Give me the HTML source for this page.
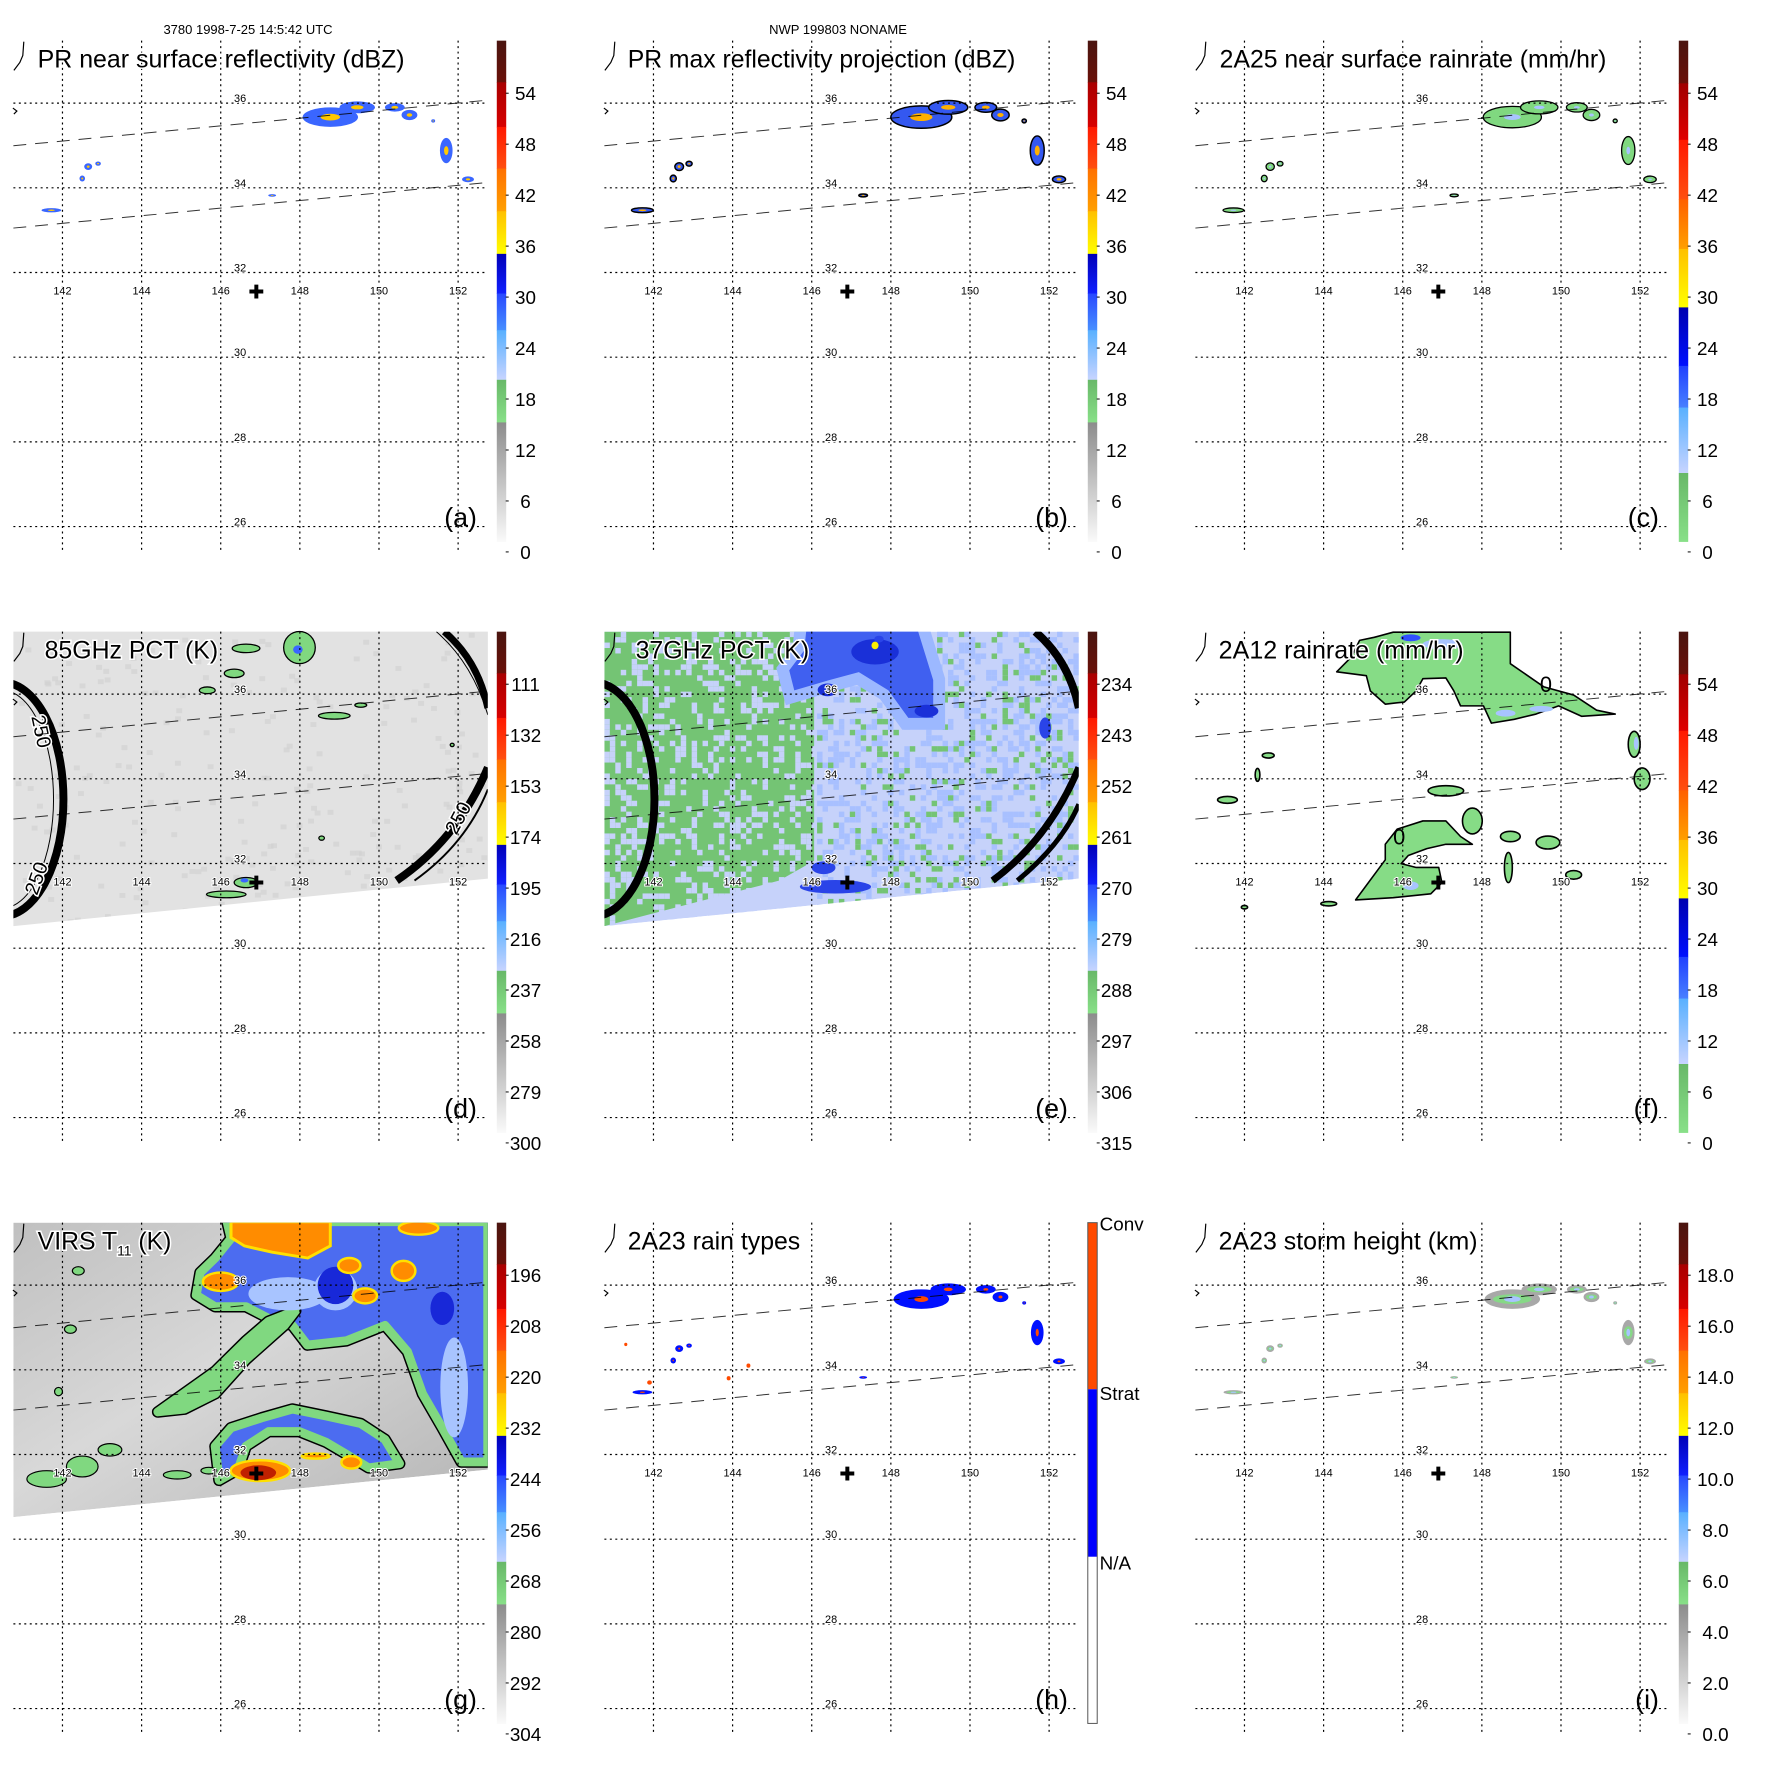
<!DOCTYPE html>
<html><head><meta charset="utf-8"><title>TRMM overpass panels</title>
<style>
html,body{margin:0;padding:0;background:#fff;}
svg{display:block;font-family:"Liberation Sans",sans-serif;}
</style></head>
<body>
<svg id="chart" xmlns="http://www.w3.org/2000/svg" width="1771" height="1771" viewBox="0 0 1771 1771">
<rect x="0" y="0" width="1771" height="1771" fill="#fff"/>
<text x="248" y="34" font-size="13" text-anchor="middle">3780 1998-7-25 14:5:42 UTC</text>
<text x="838" y="34" font-size="13" text-anchor="middle">NWP 199803 NONAME</text>
</svg>
<script>
// ---------- data ----------
const lonTicks=[142,144,146,148,150,152];
const latTicks=[36,34,32,30,28,26];
const stormLon=146.9, stormLat=31.55;
// PR precipitation cells (lon, lat, half-width deg, half-height deg)
const prLon=[148.77,149.45,150.4,150.77,151.7,152.25,151.37,142.65,142.5,142.9,141.72,147.3];
const prLat=[35.67,35.9,35.9,35.72,34.88,34.2,35.58,34.5,34.22,34.57,33.47,33.82];
const prRx=[0.7,0.45,0.25,0.2,0.16,0.15,0.05,0.1,0.07,0.07,0.25,0.1];
const prRy=[0.23,0.14,0.1,0.12,0.3,0.07,0.04,0.08,0.07,0.05,0.05,0.03];
// 85GHz cold cells
const d85Lon=[146.64,147.99,146.34,145.66,148.87,149.54,146.14,146.64,148.55,151.85];
const d85Lat=[37.08,37.1,36.49,36.09,35.49,35.74,31.27,31.55,32.6,34.8];
const d85Rx=[0.35,0.4,0.25,0.2,0.4,0.15,0.5,0.3,0.07,0.05];
const d85Ry=[0.1,0.38,0.1,0.08,0.08,0.05,0.08,0.12,0.05,0.04];
// 2A12 rain areas
const fMainLon=[145.76,148.72,148.72,149.57,150.32,150.9,151.37,150.52,149.94,149.37,148.82,148.24,148.04,147.46,147.29,147.09,146.51,146.34,146.04,145.56,145.18,145.08,144.33,144.71,144.91,145.28];
const fMainLat=[37.48,37.48,36.75,36.21,36.02,35.67,35.58,35.53,35.77,35.58,35.46,35.37,35.77,35.77,36.12,36.42,36.4,36.12,35.86,35.81,36.12,36.47,36.56,36.91,37.29,37.36];
const fArcLon=[144.81,145.56,145.56,145.86,146.51,147.09,147.46,147.76,147.09,146.61,146.14,145.96,146.34,146.91,146.99,146.71,145.76];
const fArcLat=[31.27,32.2,32.56,32.91,33.1,33.1,32.74,32.56,32.56,32.46,32.3,32.11,32.02,32.02,31.67,31.41,31.32];
const fCellLon=[147.09,147.76,148.72,149.67,148.67,150.32,151.85,152.05,141.57,142.6,142.33,144.13,142.0];
const fCellLat=[33.8,33.1,32.74,32.6,32.02,31.85,34.88,34.08,33.59,34.62,34.17,31.18,31.1];
const fCellRx=[0.45,0.25,0.25,0.3,0.1,0.2,0.15,0.2,0.25,0.15,0.06,0.2,0.08];
const fCellRy=[0.12,0.3,0.12,0.15,0.35,0.1,0.3,0.25,0.08,0.06,0.15,0.05,0.04];
// VIRS cloud structures
const gMassLon=[146.16,152.75,152.75,152.08,151.6,151.1,150.72,150.15,149.17,148.19,147.81,147.21,146.64,145.86,145.38,145.48,145.86,146.26];
const gMassLat=[37.48,37.48,31.71,31.71,32.53,33.35,34.36,34.99,34.62,34.52,34.99,35.16,35.44,35.44,35.72,36.26,36.61,37.08];
const gBandLon=[144.41,145.86,146.64,147.21,147.89,147.61,146.64,145.86,145.08];
const gBandLat=[32.91,33.89,34.62,35.09,35.34,34.99,34.17,33.35,32.98];
const gArcLon=[145.96,145.86,146.26,147.04,147.81,148.67,149.54,150.15,150.52,149.74,149.17,148.67,147.99,147.21,146.64,146.44];
const gArcLat=[31.27,32.09,32.53,32.77,32.98,32.81,32.63,32.25,31.67,31.57,31.9,32.18,32.44,32.44,32.09,31.53];
const gTopLon=[146.26,148.77,148.77,148.2,147.3,146.6,146.26];
const gTopLat=[37.48,37.48,36.9,36.61,36.75,36.9,37.1];
const gCoreLon=[146.0,151.0,150.62,149.65,149.25,147.0,149.3,148.4];
const gCoreLat=[36.04,37.33,36.3,35.7,36.43,31.5,31.7,31.85];
const gCoreRx=[0.45,0.5,0.3,0.3,0.28,0.75,0.25,0.35];
const gCoreRy=[0.22,0.16,0.24,0.18,0.18,0.25,0.15,0.06];
const gGreenLon=[141.6,142.5,143.2,142.2,144.9,145.7,141.9,142.4];
const gGreenLat=[31.3,31.6,32.0,34.9,31.4,31.5,33.4,36.3];
const gGreenRx=[0.5,0.4,0.3,0.15,0.35,0.2,0.1,0.15];
const gGreenRy=[0.2,0.25,0.15,0.1,0.1,0.08,0.1,0.1];
// 37GHz depressed regions
const eBlueLon=[145.86,148.69,149.07,149.07,148.44,147.94,147.19,146.44,145.56,145.43,145.81];
const eBlueLat=[37.48,37.48,36.33,35.44,35.44,36.09,36.52,36.33,36.09,36.56,37.03];
// colourbar labels
const labA=['54','48','42','36','30','24','18','12','6','0'];
const labD=['111','132','153','174','195','216','237','258','279','300'];
const labE=['234','243','252','261','270','279','288','297','306','315'];
const labG=['196','208','220','232','244','256','268','280','292','304'];
const labI=['18.0','16.0','14.0','12.0','10.0','8.0','6.0','4.0','2.0','0.0'];
const labH=['Conv','Strat','N/A'];

// ---------- helpers ----------
const NS='http://www.w3.org/2000/svg';
const svg=document.getElementById('chart');
function el(t,a,p){const e=document.createElementNS(NS,t);for(const k in a)e.setAttribute(k,a[k]);if(p)p.appendChild(e);return e;}
function nm(e,n){
  
  
  return e;
}
const X=lon=>63+(lon-142)*39.9;
const Y=lat=>104+(36-lat)*42.7;
function poly(lons,lats){return lons.map((l,i)=>X(l).toFixed(1)+','+Y(lats[i]).toFixed(1)).join(' ');}
const STEP=591;
const SC=0.9916;
const SWATH='13.5,41 492,41 492,290 13.5,338';
const segStd=[[41,83,'#4a1510','#6a1008'],[83,128,'#a80000','#d80000'],[128,170,'#ff1800','#ff5010'],[170,213,'#ff7000','#ffa000'],[213,256,'#ffc000','#ffff00'],[256,296,'#0000b8','#1020ff'],[296,333,'#2848ff','#4890ff'],[333,383,'#58b0ff','#c8d4ff'],[383,426,'#68b868','#88e088'],[426,546,'#8c8c8c','#fafafa']];
const segRain=[[41,84,'#4a1510','#6a1008'],[84,141,'#a00000','#e00000'],[141,201,'#ff1800','#ff5010'],[201,251,'#ff6000','#ffa000'],[251,310,'#ffc000','#ffff00'],[310,369,'#0000b0','#0010ff'],[369,411,'#2040ff','#4880ff'],[411,477,'#58b0ff','#c8d4ff'],[477,546,'#68b868','#88e088']];
const defs=el('defs',{},svg);
let gid=0;

function makePanel(col,row,key,title,titleLen,letter,labels,segs,titleX){
  const g=el('g',{transform:`translate(${(col*STEP).toFixed(1)},${(row*STEP).toFixed(1)}) scale(${SC})`},svg);
  nm(g,'panel-'+key);
  const clip=el('clipPath',{id:'clip-'+key},defs);
  el('polygon',{points:SWATH},clip);
  const data=el('g',{},g);
  nm(data,'data-layer-'+key);
  const over=el('g',{},g);
  [[147,101],[230,184]].forEach((p,i)=>{
    const l=el('line',{x1:13.5,y1:p[0],x2:492,y2:p[1],stroke:'#000','stroke-width':1,'stroke-dasharray':'13,9',opacity:0.8},over);
    nm(l,i?'swath-edge-lower':'swath-edge-upper');
  });
  lonTicks.forEach(lon=>{
    const l=el('line',{x1:X(lon),y1:41,x2:X(lon),y2:556,stroke:'#000','stroke-width':1.2,'stroke-dasharray':'2,3.5'},over);
    nm(l,'meridian-'+lon);
    const t=el('text',{x:X(lon),y:297,'font-size':11,'text-anchor':'middle',stroke:'#fff','stroke-width':2,'paint-order':'stroke'},over);
    nm(t,'lon-label-'+lon);
    t.textContent=lon;
  });
  latTicks.forEach(lat=>{
    const l=el('line',{x1:13.5,y1:Y(lat),x2:492,y2:Y(lat),stroke:'#000','stroke-width':1.2,'stroke-dasharray':'2,3.5'},over);
    nm(l,'parallel-'+lat);
    const t=el('text',{x:236,y:Y(lat)-1,'font-size':11,stroke:'#fff','stroke-width':2,'paint-order':'stroke'},over);
    nm(t,'lat-label-'+lat);
    t.textContent=lat;
  });
  const cr=el('path',{d:`M${X(stormLon)-7},${Y(stormLat)} h14 M${X(stormLon)},${Y(stormLat)-7} v14`,stroke:'#000','stroke-width':4},over);
  nm(cr,'storm-center-marker');
  const cs=el('path',{d:'M14,71 L20,63 L23,56 L24,42 M13,109 L17,112 L14,115',stroke:'#000',fill:'none','stroke-width':1.2},over);
  nm(cs,'coastline');
  const tt=el('text',{x:titleX,y:68,'font-size':25,textLength:titleLen,lengthAdjust:'spacingAndGlyphs',stroke:'#fff','stroke-width':3,'paint-order':'stroke'},over);
  nm(tt,'panel-title-'+key);
  if(key==='g'){tt.removeAttribute('textLength');tt.innerHTML='VIRS T<tspan font-size="14" dy="6">11</tspan><tspan dy="-6"> (K)</tspan>';}
  else tt.textContent=title;
  const lt=el('text',{x:481,y:531,'font-size':27,'text-anchor':'end'},over);
  nm(lt,'panel-letter-'+key);
  lt.textContent='('+letter+')';
  const cb=el('g',{},g);
  nm(cb,'colorbar-'+key);
  if(segs){
    segs.forEach(s=>{
      const id='gr'+(gid++);
      const lg=el('linearGradient',{id:id,x1:0,y1:0,x2:0,y2:1},defs);
      el('stop',{offset:0,'stop-color':s[2]},lg);el('stop',{offset:1,'stop-color':s[3]},lg);
      const r=el('rect',{x:501,y:s[0],width:9.5,height:s[1]-s[0]+0.5,fill:`url(#${id})`},cb);
      nm(r,'colorbar-segment');
    });
    labels.forEach((lab,i)=>{
      const y=94+i*51.4;
      const tk=el('line',{x1:510,y1:y,x2:513,y2:y,stroke:'#000','stroke-width':1},cb);
      nm(tk,'colorbar-tick');
      const t=el('text',{x:key==='i'?538:530,y:y+7,'font-size':19,'text-anchor':'middle'},cb);
      nm(t,'colorbar-label-'+lab);
      t.textContent=lab;
    });
  } else {
    [[41,209,'#ff4a00'],[209,378,'#0000ff'],[378,546,'#ffffff']].forEach((s,i)=>{
      const r=el('rect',{x:501,y:s[0],width:9.5,height:s[1]-s[0],fill:s[2]},cb);
      nm(r,'raintype-segment-'+labH[i].replace('/',''));
    });
    const o=el('rect',{x:501,y:41,width:9.5,height:505,fill:'none',stroke:'#555','stroke-width':1},cb);
    nm(o,'colorbar-outline');
    labels.forEach((lab,i)=>{
      const t=el('text',{x:513,y:[49,220,391][i],'font-size':19},cb);
      nm(t,'colorbar-label-'+lab.replace('/',''));
      t.textContent=lab;
    });
  }
  return {g,data,over,clip:'url(#clip-'+key+')'};
}
function blobs(parent,lons,lats,rxs,rys,fill,stroke,sw,name){
  lons.forEach((l,i)=>{
    const e=el('ellipse',{cx:X(l),cy:Y(lats[i]),rx:rxs[i]*39.9,ry:rys[i]*42.7,fill:fill,stroke:stroke||'none','stroke-width':sw||0},parent);
    nm(e,name);
  });
}
function rnd(i){const s=Math.sin(i*12.9898+78.233)*43758.5453;return s-Math.floor(s);}

// ---------- panel a ----------
let P=makePanel(0,0,'a','PR near surface reflectivity (dBZ)',370,'a',labA,segStd,38);
blobs(P.data,prLon,prLat,prRx,prRy,'#3a66ff',null,0,'pr-cell');
blobs(P.data,prLon,prLat,prRx.map(v=>v*0.35),prRy.map(v=>v*0.35),'#ffc800',null,0,'pr-core');

// ---------- panel b ----------
P=makePanel(1,0,'b','PR max reflectivity projection (dBZ)',391,'b',labA,segStd,37);
blobs(P.data,prLon,prLat,prRx.map(v=>v*1.1),prRy.map(v=>v*1.15),'#3458f0','#000',1.5,'pr-max-cell');
blobs(P.data,prLon,prLat,prRx.map(v=>v*0.4),prRy.map(v=>v*0.4),'#ffb000',null,0,'pr-max-core');

// ---------- panel c ----------
P=makePanel(2,0,'c','2A25 near surface rainrate (mm/hr)',390,'c',labA,segRain,38);
blobs(P.data,prLon,prLat,prRx.map(v=>v*1.05),prRy.map(v=>v*1.1),'#80d880','#000',1.3,'rainrate-cell');
blobs(P.data,prLon,prLat,prRx.map(v=>v*0.3),prRy.map(v=>v*0.3),'#a8c4ff',null,0,'rainrate-core');

// ---------- panel d ----------
P=makePanel(0,1,'d','85GHz PCT (K)',175,'d',labD,segStd,45);
{
  const s=el('polygon',{points:SWATH,fill:'#e2e2e2'},P.data);
  nm(s,'pct85-swath');
  const cg=el('g',{'clip-path':P.clip},P.data);
  for(let i=0;i<220;i++){
    const r=el('rect',{x:13.5+rnd(i)*478,y:41+rnd(i+500)*290,width:6,height:5,fill:'#d0d0d0',opacity:0.6},cg);
    nm(r,'pct85-texture');
  }
  const ar=el('g',{'clip-path':P.clip,fill:'none',stroke:'#000'},P.data);
  nm(ar,'pct85-contours');
  el('ellipse',{cx:2,cy:210,rx:62,ry:118,'stroke-width':8},ar);
  el('ellipse',{cx:2,cy:210,rx:52,ry:110,'stroke-width':1},ar);
  el('path',{d:'M448,41 Q482,70 492,118','stroke-width':7},ar);
  el('path',{d:'M440,41 Q476,72 492,125','stroke-width':1},ar);
  el('path',{d:'M400,292 Q462,250 492,178','stroke-width':8},ar);
  el('path',{d:'M418,292 Q470,255 492,200','stroke-width':2},ar);
  blobs(P.data,d85Lon,d85Lat,d85Rx,d85Ry,'#80d880','#000',1.3,'pct85-cold-cell');
  blobs(P.data,[147.95,146.6],[37.05,31.6],[0.12,0.1],[0.1,0.05],'#3a66ff',null,0,'pct85-core');
  [[35,143,78],[43,292,-70],[468,232,-62]].forEach(p=>{
    const t=el('text',{x:p[0],y:p[1],'font-size':20,'text-anchor':'middle',transform:`rotate(${p[2]} ${p[0]} ${p[1]})`,fill:'#000',stroke:'#fff','stroke-width':3,'paint-order':'stroke'},P.data);
    nm(t,'contour-label-250');
    t.textContent='250';
  });
}

// ---------- panel e ----------
P=makePanel(1,1,'e','37GHz PCT (K)',175,'e',labE,segStd,45);
{
  const cg=el('g',{'clip-path':P.clip},P.data);
  nm(cg,'pct37-field');
  const s=el('polygon',{points:SWATH,fill:'#c6d2fa'},cg);
  nm(s,'pct37-swath');
  const gr=el('polygon',{points:'13.5,41 225,41 225,272 190,292 13.5,338',fill:'#74c474'},cg);
  nm(gr,'pct37-warm-region');
  let k=0;
  for(let yy=41;yy<340;yy+=5.5){for(let xx=13.5;xx<492;xx+=5.5){k++;const r=rnd(k);
    const left=xx<225;
    let c=null;
    if(left&&r<0.3)c='#c6d2fa';
    else if(!left&&r<0.1)c='#74c474';
    else if(!left&&r>0.7)c='#a8c0ff';
    if(c){const q=el('rect',{x:xx,y:yy,width:5.5,height:5.5,fill:c},cg);nm(q,'pct37-pixel');}
  }}
  const lb=el('polygon',{points:poly(eBlueLon,eBlueLat),fill:'#7ea4ff',stroke:'#9cb8ff','stroke-width':24},cg);
  nm(lb,'pct37-depression-halo');
  const bl=el('polygon',{points:poly(eBlueLon,eBlueLat),fill:'#4060f0'},cg);
  nm(bl,'pct37-depression');
  blobs(cg,[147.6,148.9,146.4],[37.0,35.6,36.1],[0.6,0.3,0.25],[0.3,0.15,0.15],'#1a30d8',null,0,'pct37-deep-depression');
  blobs(cg,[146.6,146.3,151.9,147.7],[31.45,31.9,35.2,37.3],[0.9,0.3,0.15,0.12],[0.16,0.15,0.25,0.08],'#2a44e8',null,0,'pct37-cold-cell');
  blobs(cg,[147.6],[37.15],[0.09],[0.09],'#ffee00',null,0,'pct37-coldest');
  const ar=el('g',{'clip-path':P.clip,fill:'none',stroke:'#000'},P.data);
  nm(ar,'pct37-contours');
  el('ellipse',{cx:2,cy:210,rx:62,ry:118,'stroke-width':8},ar);
  el('path',{d:'M448,41 Q482,70 492,118','stroke-width':8},ar);
  el('path',{d:'M405,292 Q462,250 492,178','stroke-width':7},ar);
  el('path',{d:'M430,292 Q475,255 492,215','stroke-width':5},ar);
}

// ---------- panel f ----------
P=makePanel(2,1,'f','2A12 rainrate (mm/hr)',247,'f',labA,segRain,37);
{
  const fg=el('g',{transform:'scale(1,1.018)'},P.data);
  nm(fg,'rain-areas');
  [[fMainLon,fMainLat],[fArcLon,fArcLat]].forEach((p,i)=>{
    const pg=el('polygon',{points:poly(p[0],p[1]),fill:'#86dc86',stroke:'#000','stroke-width':1.6,'stroke-linejoin':'round'},fg);
    nm(pg,i?'rain-band-south':'rain-area-north');
  });
  blobs(fg,fCellLon,fCellLat,fCellRx,fCellRy,'#86dc86','#000',1.6,'rain-cell');
  blobs(fg,[147.0,148.6,149.5,146.2,151.9],[37.2,35.6,35.7,31.6,34.9],[0.5,0.25,0.3,0.2,0.06],[0.12,0.08,0.07,0.1,0.15],'#a8c4ff',null,0,'rain-moderate');
  blobs(fg,[146.2],[37.35],[0.25],[0.08],'#3050ff',null,0,'rain-heavy');
  [[367,100],[219,251]].forEach(p=>{
    const t=el('text',{x:p[0],y:p[1],'font-size':22,'text-anchor':'middle'},fg);
    nm(t,'contour-label-0');
    t.textContent='0';
  });
}

// ---------- panel g ----------
P=makePanel(0,2,'g','',0,'g',labG,segStd,38);
{
  const cg=el('g',{'clip-path':P.clip},P.data);
  nm(cg,'virs-field');
  const lg=el('linearGradient',{id:'grg',x1:0,y1:0,x2:1,y2:1},defs);
  el('stop',{offset:0,'stop-color':'#c0c0c0'},lg);el('stop',{offset:0.45,'stop-color':'#d8d8d8'},lg);el('stop',{offset:1,'stop-color':'#b4b4b4'},lg);
  const s=el('polygon',{points:SWATH,fill:'url(#grg)'},cg);
  nm(s,'virs-swath');
  const inner=el('g',{transform:'scale(1,0.983)'},cg);
  [[gMassLon,gMassLat,'#4c6cf0','cloud-shield'],[gBandLon,gBandLat,'#80d880','cirrus-band'],[gArcLon,gArcLat,'#4c6cf0','eyewall-band']].forEach(p=>{
    const a=el('polygon',{points:poly(p[0],p[1]),fill:'none',stroke:'#000','stroke-width':12,'stroke-linejoin':'round'},inner);
    nm(a,p[3]+'-edge');
    const b=el('polygon',{points:poly(p[0],p[1]),fill:p[2],stroke:'#80d880','stroke-width':9,'stroke-linejoin':'round'},inner);
    nm(b,p[3]);
  });
  blobs(inner,[147.7,148.9,151.9],[35.75,35.85,33.5],[1.0,0.55,0.35],[0.4,0.5,1.2],'#a8c4ff',null,0,'cloud-warmer');
  blobs(inner,[148.9,151.6],[35.95,35.4],[0.45,0.3],[0.45,0.4],'#1828d8',null,0,'cloud-colder');
  const tp=el('polygon',{points:poly(gTopLon,gTopLat),fill:'#ff8c00',stroke:'#ffe000','stroke-width':3},inner);
  nm(tp,'cold-top');
  blobs(inner,gCoreLon,gCoreLat,gCoreRx,gCoreRy,'#ff8c00','#ffe000',2.5,'cold-core');
  blobs(inner,[146.95],[31.45],[0.45],[0.18],'#c02000',null,0,'eye-core');
  blobs(inner,gGreenLon,gGreenLat,gGreenRx,gGreenRy,'#80d880','#000',1.2,'low-cloud');
}

// ---------- panel h ----------
P=makePanel(1,2,'h','2A23 rain types',174,'h',labH,null,37);
blobs(P.data,prLon,prLat,prRx,prRy,'#0010ff',null,0,'stratiform-cell');
blobs(P.data,prLon,prLat,prRx.map(v=>v*0.25),prRy.map(v=>v*0.3),'#ff4a00',null,0,'convective-cell');
blobs(P.data,[141.9,143.9,144.4,141.3],[33.7,33.8,34.1,34.6],[0.06,0.05,0.05,0.04],[0.05,0.05,0.05,0.04],'#ff4a00',null,0,'convective-cell');

// ---------- panel i ----------
P=makePanel(2,2,'i','2A23 storm height (km)',261,'i',labI,segStd,37);
blobs(P.data,prLon,prLat,prRx,prRy,'#a8a8a8',null,0,'storm-height-low');
blobs(P.data,prLon,prLat,prRx.map(v=>v*0.7),prRy.map(v=>v*0.5),'#86d886',null,0,'storm-height-mid');
blobs(P.data,prLon,prLat,prRx.map(v=>v*0.3),prRy.map(v=>v*0.3),'#a8c4ff',null,0,'storm-height-high');
</script>
</body></html>
